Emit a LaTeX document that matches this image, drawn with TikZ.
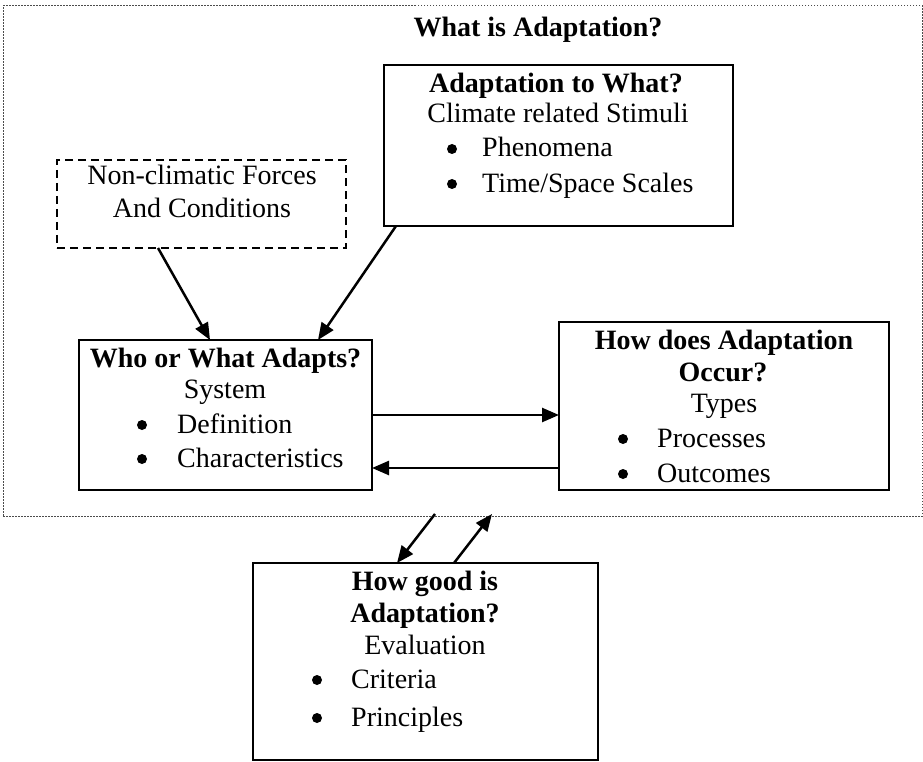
\documentclass[tikz,border=0pt]{standalone}
\usepackage{fontspec}
\setmainfont{Liberation Serif}
\usetikzlibrary{arrows.meta,calc}
\tikzset{
  box/.style={draw=black, line width=2.5pt, inner sep=0pt, outer sep=0pt, rectangle},
  dbox/.style={box, line width=2.2pt, dash pattern=on 8pt off 5pt},
  frame/.style={draw=black!70, line width=1pt, dash pattern=on 1.5pt off 1.5pt, inner sep=0pt, outer sep=0pt, rectangle},
  txt/.style={anchor=base, inner sep=0pt, font=\fontsize{28}{33}\selectfont},
  btxt/.style={txt, font=\fontsize{28}{33}\selectfont\bfseries},
  ltxt/.style={txt, anchor=base west},
  bul/.style={circle, fill=black, inner sep=0pt, minimum size=10pt},
  arr/.style={line width=2.5pt, -{Triangle[length=17pt,width=14pt]}}
}
\begin{document}
\begin{tikzpicture}[x=1pt,y=-1pt]
\useasboundingbox (0,0) rectangle (923,762);
% outer dotted frame
\node[frame, minimum width=919pt, minimum height=510pt] (outer) at (462.5,261) {};
\node[btxt] (title) at (538,37) {What is Adaptation?};

% boxes
\node[box, minimum width=349pt, minimum height=161pt] (top) at (558.5,145.5) {};
\node[dbox, minimum width=289pt, minimum height=88pt] (dash) at (201.5,204) {};
\node[box, minimum width=293pt, minimum height=150pt] (who) at (225.5,415) {};
\node[box, minimum width=330pt, minimum height=168pt] (how) at (724,406) {};
\node[box, minimum width=345pt, minimum height=197pt] (good) at (425.5,661.5) {};

% top box text
\node[btxt] (t1) at (556,93) {Adaptation to What?};
\node[txt] (t2) at (558,123) {Climate related Stimuli};
\node[bul] (t3b) at (452,149) {};
\node[ltxt] (t3) at (482,157) {Phenomena};
\node[bul] (t4b) at (452,184) {};
\node[ltxt] (t4) at (482,193) {Time/Space Scales};

% dashed box text
\node[txt] (d1) at (202,185) {Non-climatic Forces};
\node[txt] (d2) at (202,218) {And Conditions};

% who box text
\node[btxt] (w1) at (225.5,367) {Who or What Adapts?};
\node[txt] (w2) at (225,398) {System};
\node[bul] (w3b) at (142,425) {};
\node[ltxt] (w3) at (177,433) {Definition};
\node[bul] (w4b) at (142,459) {};
\node[ltxt] (w4) at (177,467) {Characteristics};

% how box text
\node[btxt] (h1) at (724,349) {How does Adaptation};
\node[btxt] (h2) at (723,381) {Occur?};
\node[txt] (h3) at (724,412) {Types};
\node[bul] (h4b) at (623,439) {};
\node[ltxt] (h4) at (657,447) {Processes};
\node[bul] (h5b) at (623,474) {};
\node[ltxt] (h5) at (657,482) {Outcomes};

% good box text
\node[btxt] (g1) at (425,590) {How good is};
\node[btxt] (g2) at (425,622) {Adaptation?};
\node[txt] (g3) at (425,654) {Evaluation};
\node[bul] (g4b) at (317,680) {};
\node[ltxt] (g4) at (351,688) {Criteria};
\node[bul] (g5b) at (317,718) {};
\node[ltxt] (g5) at (351,726) {Principles};

% connectors
\draw[arr] ($(dash.south west)+(101,0)$) -- ($(who.north west)+(131,0)$);
\draw[arr] ($(top.south west)+(12,0)$) -- ($(who.north west)+(239,0)$);
\draw[arr] (who.east) -- (how.west |- who.east);
\draw[arr] ($(how.west)+(0,62)$) -- ($(who.east)+(0,53)$);
\draw[arr] ($(outer.south west)+(432,-2)$) -- ($(good.north west)+(144,0)$);
\draw[arr] ($(good.north west)+(201,0)$) -- ($(outer.south west)+(489,-2)$);
\end{tikzpicture}
\end{document}
